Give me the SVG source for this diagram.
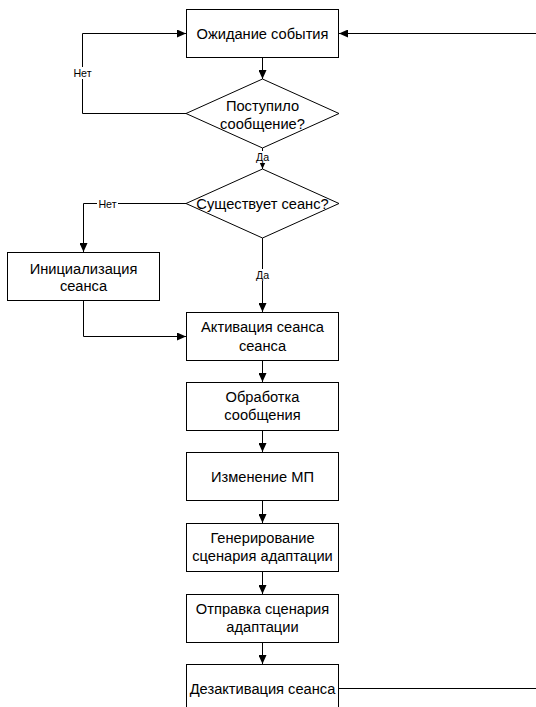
<svg xmlns="http://www.w3.org/2000/svg" width="536" height="707" viewBox="0 0 536 707">
<style>
.box{fill:#fff;stroke:#000;stroke-width:1}
.t{font-family:"Liberation Sans",Arial,sans-serif;font-size:14.67px;fill:#000;text-anchor:middle}
.lbl{font-family:"Liberation Sans",Arial,sans-serif;font-size:10.67px;fill:#000;text-anchor:middle}
.c{fill:none;stroke:#000;stroke-width:1}
.bg{fill:#fff}
</style>
<defs>
<marker id="ah" markerWidth="9" markerHeight="8" refX="9" refY="4" orient="auto" markerUnits="userSpaceOnUse">
<path d="M0,0 L9,4 L0,8 Z" fill="#000"/>
</marker>
</defs>
<rect width="536" height="707" fill="#fff"/>
<g id="connectors">
<path class="c" d="M262.5,58 V79" marker-end="url(#ah)"/>
<path class="c" d="M186,113.5 H82.5 V33.5 H186" marker-end="url(#ah)"/>
<path class="c" d="M262.5,148 V169" marker-end="url(#ah)"/>
<path class="c" d="M186,203.5 H83.5 V252" marker-end="url(#ah)"/>
<path class="c" d="M262.5,238 V312" marker-end="url(#ah)"/>
<path class="c" d="M83.5,301 V336.5 H186" marker-end="url(#ah)"/>
<path class="c" d="M262.5,361 V382" marker-end="url(#ah)"/>
<path class="c" d="M262.5,431 V452" marker-end="url(#ah)"/>
<path class="c" d="M262.5,501 V523" marker-end="url(#ah)"/>
<path class="c" d="M262.5,572 V594" marker-end="url(#ah)"/>
<path class="c" d="M262.5,643 V664" marker-end="url(#ah)"/>
<path class="c" d="M339,688.5 H538 V33.5 H339" marker-end="url(#ah)"/>
<rect class="bg" x="72" y="67" width="21" height="12"/>
<text class="lbl" x="82.5" y="77">Нет</text>
<rect class="bg" x="97" y="198" width="21" height="12"/>
<text class="lbl" x="107.5" y="207.5">Нет</text>
<rect class="bg" x="255" y="151" width="15" height="12"/>
<text class="lbl" x="262.5" y="161">Да</text>
<rect class="bg" x="255" y="269" width="15" height="12"/>
<text class="lbl" x="262.5" y="279">Да</text>
</g>
<g id="n1"><rect class="box" x="186.5" y="9.5" width="152" height="48"/><text class="t" x="262.5" y="38.5">Ожидание события</text></g>
<g id="n2"><polygon class="box" points="262.5,79 339,113.5 262.5,148 186,113.5"/><text class="t" x="262.5" y="111">Поступило</text><text class="t" x="262.5" y="129">сообщение?</text></g>
<g id="n3"><polygon class="box" points="262.5,169 339,203.5 262.5,238 186,203.5"/><text class="t" x="262.5" y="208.5">Существует сеанс?</text></g>
<g id="n4"><rect class="box" x="7.5" y="252.5" width="152" height="48"/><text class="t" x="83.5" y="273.5">Инициализация</text><text class="t" x="83.5" y="291">сеанса</text></g>
<g id="n5"><rect class="box" x="186.5" y="312.5" width="152" height="48"/><text class="t" x="262.5" y="332">Активация сеанса</text><text class="t" x="262.5" y="350.5">сеанса</text></g>
<g id="n6"><rect class="box" x="186.5" y="382.5" width="152" height="48"/><text class="t" x="262.5" y="402">Обработка</text><text class="t" x="262.5" y="420">сообщения</text></g>
<g id="n7"><rect class="box" x="186.5" y="452.5" width="152" height="48"/><text class="t" x="262.5" y="481.5">Изменение МП</text></g>
<g id="n8"><rect class="box" x="186.5" y="523.5" width="152" height="48"/><text class="t" x="262.5" y="543">Генерирование</text><text class="t" x="262.5" y="561">сценария адаптации</text></g>
<g id="n9"><rect class="box" x="186.5" y="594.5" width="152" height="48"/><text class="t" x="262.5" y="614">Отправка сценария</text><text class="t" x="262.5" y="632">адаптации</text></g>
<g id="n10"><rect class="box" x="186.5" y="664.5" width="152" height="48"/><text class="t" x="262.5" y="693.5">Дезактивация сеанса</text></g>
</svg>
